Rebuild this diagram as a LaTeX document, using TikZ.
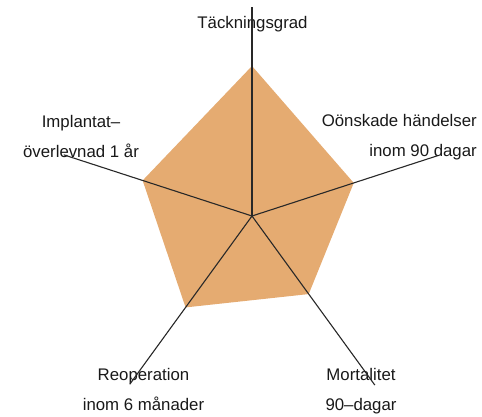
\documentclass[tikz,border=0pt]{standalone}
\usepackage{fontspec}
\setmainfont{Liberation Sans}
\usepackage{xcolor}
\definecolor{radarcam}{RGB}{229,171,113}
\definecolor{mautruc}{RGB}{40,40,40}

\begin{document}
\begin{tikzpicture}[x=1pt,y=1pt,
		nhan/.style={text=black!90,inner sep=0pt,align=center,
			font=\fontsize{16.8}{29.5}\selectfont},
		truc/.style={draw=mautruc,line width=1.1pt}]
			% Khung
			\useasboundingbox (0,0) rectangle (482,416);
			\coordinate (O) at (252,200);
			% Đỉnh đa giác và đầu mút các trục
			\begin{scope}[shift={(O)}]
			\foreach \r[count =\i from 0] in {150,107,96.5,113,115}
			\coordinate (p\i) at ({90-72*\i}:\r);
			\foreach \r[count =\i from 0] in {209,195,209,208,198}
			\coordinate (e\i) at ({90-72*\i}:\r);
			\end{scope}
			% Vẽ đa giác
			\fill[radarcam] (p0) -- (p1) -- (p2) -- (p3) -- (p4) -- cycle;
			% Nhãn
			\node[nhan,anchor=base] (tg) at (252.5,387) {Täckningsgrad};
			\node[nhan,anchor=base east,align=right] (oh) at (477,260) {Oönskade händelser\\inom 90 dagar};
			\node[nhan,anchor=base] (mo) at (361,6) {Mortalitet\\90–dagar};
			\node[nhan,anchor=base] (re) at (143.5,6) {Reoperation\\inom 6 månader};
			\node[nhan,anchor=base] (im) at (81,259) {Implantat–\\överlevnad 1 år};
			% Vẽ trục
			\foreach \i in {0,...,4}
			\draw[truc] (O) -- (e\i);
		\end{tikzpicture}
\end{document}
